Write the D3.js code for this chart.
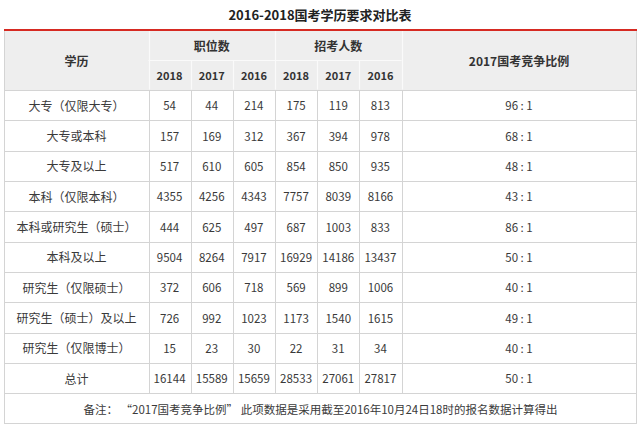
<!DOCTYPE html>
<html>
<head>
<meta charset="utf-8">
<style>
  body { margin: 0; background: #fff; }
  text { font-family: "Noto Sans CJK SC", "Noto Sans", sans-serif; }
</style>
</head>
<body>
<script src="https://d3js.org/d3.v7.min.js"></script>
<script>

const title = '2016-2018国考学历要求对比表';
const categories = ['大专（仅限大专）', '大专或本科', '大专及以上', '本科（仅限本科）', '本科或研究生（硕士）',
  '本科及以上', '研究生（仅限硕士）', '研究生（硕士）及以上', '研究生（仅限博士）', '总计'];
const years = ['2018', '2017', '2016'];
const posts2018 = [54, 157, 517, 4355, 444, 9504, 372, 726, 15, 16144];
const posts2017 = [44, 169, 610, 4256, 625, 8264, 606, 992, 23, 15589];
const posts2016 = [214, 312, 605, 4343, 497, 7917, 718, 1023, 30, 15659];
const apply2018 = [175, 367, 854, 7757, 687, 16929, 569, 1173, 22, 28533];
const apply2017 = [119, 394, 850, 8039, 1003, 14186, 899, 1540, 31, 27061];
const apply2016 = [813, 978, 935, 8166, 833, 13437, 1006, 1615, 34, 27817];
const ratio2017 = [96, 68, 48, 43, 86, 50, 40, 49, 40, 50];
const note = '备注： “2017国考竞争比例” 此项数据是采用截至2016年10月24日18时的报名数据计算得出';

const width = 640, height = 429;
const left = 4.5, right = 636.5;
const tableTop = 30, headH = 30;
const line = '#d4d4d4';

const svg = d3.select('body').append('svg')
  .attr('width', width).attr('height', height);

svg.append('text')
  .attr('x', 320).attr('y', 14)
  .attr('text-anchor', 'middle').attr('dominant-baseline', 'central')
  .attr('font-size', 13).attr('font-weight', 'bold').attr('fill', '#222')
  .text(title);

// columns: 学历 | 6 year cols | ratio
const colKeys = ['p2018', 'p2017', 'p2016', 'a2018', 'a2017', 'a2016'];
const x = d3.scaleBand().domain(colKeys).range([148.5, 401.5]);
const firstColEnd = x.range()[0], lastColStart = x.range()[1];

const y = d3.scaleBand().domain(categories).range([tableTop + 2 * headH, 393.5]);
const noteTop = y.range()[1], noteBottom = noteTop + 30;

// header background
svg.append('rect')
  .attr('x', left).attr('y', tableTop)
  .attr('width', right - left).attr('height', 2 * headH)
  .attr('fill', '#eeeeee');

// grid
const g = svg.append('g').attr('stroke', line).attr('stroke-width', 1).attr('fill', 'none');
g.append('rect').attr('x', left).attr('y', tableTop).attr('width', right - left).attr('height', noteBottom - tableTop);
g.selectAll('.h').data(categories).join('line')
  .attr('x1', left).attr('x2', right)
  .attr('y1', d => Math.round(y(d)) + 0.5).attr('y2', d => Math.round(y(d)) + 0.5);
g.append('line').attr('x1', left).attr('x2', right).attr('y1', noteTop).attr('y2', noteTop);

// vertical lines: gray in the body, light inside the header
const vx = colKeys.map(k => x(k)).concat([lastColStart]);
const isGroup = i => i === 0 || i === 3 || i === 6;
g.selectAll('.v').data(vx).join('line')
  .attr('x1', d => Math.round(d) + 0.5).attr('x2', d => Math.round(d) + 0.5)
  .attr('y1', tableTop + 2 * headH).attr('y2', noteTop);
const hl = svg.append('g').attr('stroke', '#fafafa').attr('stroke-width', 1.2);
hl.append('line').attr('x1', firstColEnd).attr('x2', lastColStart)
  .attr('y1', tableTop + headH + 0.5).attr('y2', tableTop + headH + 0.5);
hl.selectAll('line.vh').data(vx).join('line').attr('class', 'vh')
  .attr('x1', d => Math.round(d) + 0.5).attr('x2', d => Math.round(d) + 0.5)
  .attr('y1', (d, i) => isGroup(i) ? tableTop : tableTop + headH)
  .attr('y2', tableTop + 2 * headH - 0.5);

// red top rule
svg.append('line').attr('x1', left - 0.5).attr('x2', right + 0.5)
  .attr('y1', tableTop).attr('y2', tableTop)
  .attr('stroke', '#d62a22').attr('stroke-width', 2);

// header text
const hdr = svg.append('g').attr('font-weight', 'bold').attr('fill', '#333')
  .attr('text-anchor', 'middle').attr('dominant-baseline', 'central');
hdr.append('text').attr('x', (left + firstColEnd) / 2).attr('y', tableTop + headH)
  .attr('font-size', 12).text('学历');
hdr.append('text').attr('x', x('p2017') + x.bandwidth() / 2).attr('y', tableTop + headH / 2)
  .attr('font-size', 12).text('职位数');
hdr.append('text').attr('x', x('a2017') + x.bandwidth() / 2).attr('y', tableTop + headH / 2)
  .attr('font-size', 12).text('招考人数');
hdr.append('text').attr('x', (lastColStart + right) / 2).attr('y', tableTop + headH)
  .attr('font-size', 12).text('2017国考竞争比例');
hdr.selectAll('.yr').data(colKeys).join('text')
  .attr('x', d => x(d) + x.bandwidth() / 2).attr('y', tableTop + headH * 1.5)
  .attr('font-size', 11).text((d, i) => years[i % 3]);

// body rows
const cols = [posts2018, posts2017, posts2016, apply2018, apply2017, apply2016];
const body = svg.append('g').attr('fill', '#3a3a3a').attr('font-size', 11.5)
  .attr('text-anchor', 'middle').attr('dominant-baseline', 'central');
categories.forEach((c, r) => {
  const cy = y(c) + y.bandwidth() / 2;
  body.append('text').attr('x', (left + firstColEnd) / 2).attr('y', cy)
    .attr('font-size', 12).text(c);
  colKeys.forEach((k, j) => {
    body.append('text').attr('x', x(k) + x.bandwidth() / 2).attr('y', cy).text(cols[j][r]);
  });
  body.append('text').attr('x', (lastColStart + right) / 2).attr('y', cy).text(ratio2017[r] + ' : 1');
});

svg.append('text')
  .attr('x', (left + right) / 2).attr('y', (noteTop + noteBottom) / 2)
  .attr('text-anchor', 'middle').attr('dominant-baseline', 'central')
  .attr('font-size', 11.5).attr('fill', '#3a3a3a')
  .text(note);

</script>
</body>
</html>
